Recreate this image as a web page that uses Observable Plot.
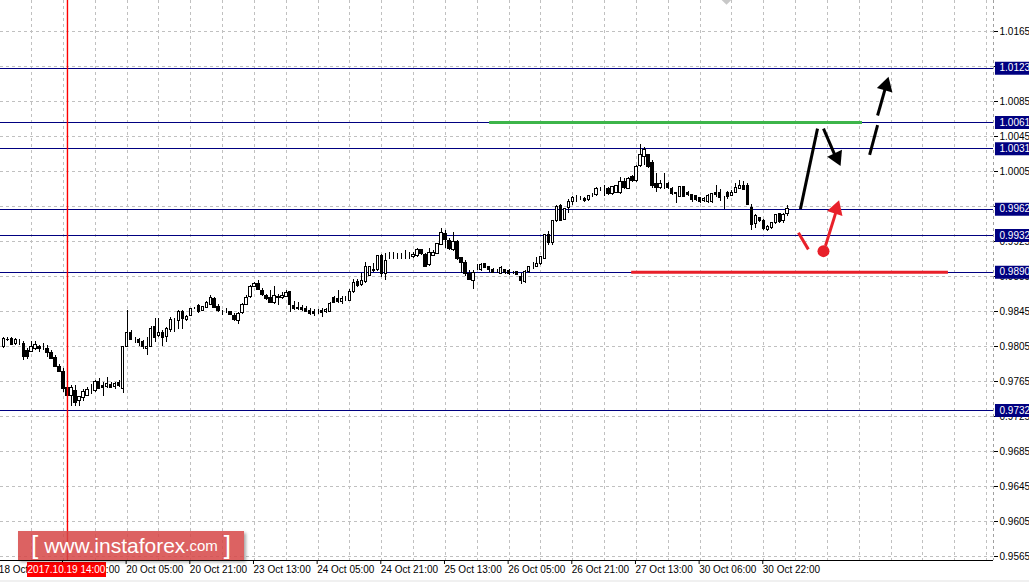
<!DOCTYPE html>
<html><head><meta charset="utf-8">
<script src="https://cdn.jsdelivr.net/npm/d3@7"></script>
<script src="https://cdn.jsdelivr.net/npm/@observablehq/plot@0.6"></script>
<style>
html,body{margin:0;padding:0;background:#f0f0f0;}
#wrap{position:relative;width:1029px;height:582px;overflow:hidden;background:#f0f0f0;}
#chart svg{display:block;}
.wm{position:absolute;left:18px;top:531px;width:226px;height:29px;background:rgba(214,70,70,0.85);box-shadow:2px 2px 3px rgba(0,0,0,0.35);color:#fff;font-family:"Liberation Sans",Arial,sans-serif;display:flex;align-items:center;justify-content:center;white-space:nowrap;}
.wm .br{font-size:26px;line-height:29px;margin:0 6px;}
.wm .www{font-size:21px;}
.wm .com{font-size:15px;}
.datebox{position:absolute;left:27px;top:562px;width:79px;height:15px;background:#ff0000;color:#fff;font:10px "Liberation Sans",Arial,sans-serif;text-align:center;line-height:15px;}
.diamond{position:absolute;left:722px;top:-6px;width:9px;height:9px;background:#c8c8c8;transform:rotate(45deg);}
</style>
</head><body>
<div id="wrap"><div id="chart"></div>
<div class="diamond"></div>
<div class="datebox">2017.10.19 14:00</div>
<div class="wm"><span class="br">[</span><span class="www">www.instaforex</span><span class="com">.com</span><span class="br">]</span></div>
</div>
<script>
// ---- candle data (hourly bars, index 0 = first visible bar) ----
const candleOpen = [
0.9804,0.9812,0.9814,0.9808,0.9811,0.9808,0.9800,0.9799,0.9802,0.9805,
0.9804,0.9802,0.9798,0.9792,0.9782,0.9776,0.9758,0.9749,0.9754,0.9743,
0.9746,0.9749,0.9754,0.9754,0.9764,0.9760,0.9759,0.9761,0.9759,0.9763,
0.9756,0.9805,0.9821,0.9812,0.9812,0.9810,0.9802,0.9805,0.9827,0.9817,
0.9820,0.9816,0.9824,0.9833,0.9834,0.9844,0.9835,0.9840,0.9848,0.9851,
0.9846,0.9849,0.9853,0.9859,0.9850,0.9845,0.9846,0.9844,0.9840,0.9834,
0.9843,0.9853,0.9862,0.9873,0.9877,0.9868,0.9863,0.9861,0.9855,0.9862,
0.9861,0.9862,0.9867,0.9851,0.9849,0.9849,0.9848,0.9846,0.9845,0.9845,
0.9846,0.9844,0.9845,0.9861,0.9859,0.9856,0.9858,0.9857,0.9867,0.9879,
0.9875,0.9879,0.9886,0.9891,0.9892,0.9909,0.9888,0.9908,0.9909,0.9908,
0.9908,0.9909,0.9908,0.9907,0.9909,0.9915,0.9910,0.9898,0.9909,0.9911,
0.9921,0.9934,0.9926,0.9915,0.9924,0.9906,0.9900,0.9888,0.9880,0.9896,
0.9892,0.9899,0.9896,0.9893,0.9892,0.9888,0.9892,0.9891,0.9890,0.9890,
0.9885,0.9879,0.9890,0.9896,0.9896,0.9899,0.9905,0.9932,0.9923,0.9949,
0.9966,0.9950,0.9963,0.9970,0.9975,0.9975,0.9974,0.9972,0.9978,0.9978,
0.9984,0.9985,0.9985,0.9979,0.9981,0.9980,0.9993,0.9985,0.9999,0.9994,
1.0011,1.0022,1.0024,1.0015,0.9991,0.9986,0.9990,0.9991,0.9985,0.9980,
0.9976,0.9987,0.9981,0.9978,0.9977,0.9975,0.9971,0.9970,0.9970,0.9981,
0.9980,0.9976,0.9981,0.9977,0.9981,0.9985,0.9988,0.9989,0.9963,0.9945,
0.9952,0.9949,0.9938,0.9940,0.9946,0.9956,0.9948,0.9956];
const candleHigh = [
0.9815,0.9815,0.9815,0.9814,0.9813,0.9811,0.9803,0.9811,0.9811,0.9806,
0.9809,0.9806,0.9800,0.9795,0.9785,0.9780,0.9758,0.9760,0.9760,0.9748,
0.9756,0.9758,0.9762,0.9766,0.9768,0.9764,0.9770,0.9764,0.9764,0.9766,
0.9805,0.9846,0.9823,0.9815,0.9814,0.9812,0.9815,0.9828,0.9837,0.9837,
0.9823,0.9827,0.9838,0.9837,0.9846,0.9846,0.9841,0.9849,0.9850,0.9853,
0.9851,0.9856,0.9863,0.9861,0.9853,0.9846,0.9848,0.9845,0.9843,0.9844,
0.9854,0.9863,0.9875,0.9878,0.9880,0.9871,0.9864,0.9869,0.9874,0.9864,
0.9867,0.9869,0.9868,0.9856,0.9855,0.9852,0.9851,0.9849,0.9847,0.9847,
0.9848,0.9848,0.9855,0.9862,0.9869,0.9862,0.9862,0.9870,0.9882,0.9882,
0.9889,0.9901,0.9897,0.9900,0.9909,0.9910,0.9911,0.9912,0.9912,0.9911,
0.9911,0.9915,0.9912,0.9912,0.9917,0.9916,0.9911,0.9917,0.9915,0.9923,
0.9940,0.9938,0.9928,0.9935,0.9926,0.9907,0.9903,0.9892,0.9892,0.9899,
0.9900,0.9900,0.9896,0.9894,0.9893,0.9896,0.9893,0.9893,0.9891,0.9891,
0.9888,0.9892,0.9897,0.9901,0.9907,0.9908,0.9933,0.9936,0.9949,0.9966,
0.9967,0.9963,0.9973,0.9977,0.9978,0.9977,0.9975,0.9978,0.9980,0.9987,
0.9987,0.9989,0.9987,0.9988,0.9989,0.9998,0.9997,0.9998,1.0001,1.0012,
1.0036,1.0032,1.0025,1.0018,1.0003,0.9995,1.0003,0.9992,0.9987,0.9981,
0.9988,0.9987,0.9982,0.9979,0.9978,0.9975,0.9975,0.9979,0.9980,0.9989,
0.9984,0.9977,0.9982,0.9983,0.9991,0.9995,0.9994,0.9991,0.9967,0.9956,
0.9953,0.9950,0.9943,0.9947,0.9956,0.9957,0.9957,0.9966];
const candleLow = [
0.9803,0.9811,0.9806,0.9806,0.9806,0.9789,0.9790,0.9798,0.9801,0.9798,
0.9800,0.9792,0.9790,0.9781,0.9775,0.9753,0.9746,0.9736,0.9736,0.9736,
0.9742,0.9748,0.9750,0.9753,0.9756,0.9748,0.9757,0.9757,0.9756,0.9758,
0.9751,0.9804,0.9812,0.9808,0.9805,0.9802,0.9795,0.9804,0.9810,0.9815,
0.9805,0.9810,0.9821,0.9821,0.9824,0.9825,0.9834,0.9839,0.9847,0.9843,
0.9845,0.9848,0.9852,0.9848,0.9844,0.9840,0.9843,0.9840,0.9834,0.9830,
0.9842,0.9852,0.9860,0.9872,0.9869,0.9862,0.9858,0.9854,0.9853,0.9852,
0.9859,0.9861,0.9844,0.9846,0.9846,0.9845,0.9844,0.9841,0.9839,0.9842,
0.9838,0.9843,0.9844,0.9854,0.9854,0.9853,0.9857,0.9856,0.9866,0.9873,
0.9874,0.9877,0.9885,0.9890,0.9891,0.9884,0.9880,0.9905,0.9905,0.9905,
0.9904,0.9904,0.9904,0.9906,0.9907,0.9909,0.9895,0.9897,0.9908,0.9910,
0.9920,0.9917,0.9915,0.9914,0.9903,0.9888,0.9885,0.9880,0.9870,0.9892,
0.9891,0.9894,0.9890,0.9888,0.9889,0.9887,0.9887,0.9886,0.9887,0.9886,
0.9876,0.9877,0.9888,0.9893,0.9895,0.9898,0.9904,0.9920,0.9920,0.9947,
0.9948,0.9949,0.9957,0.9966,0.9970,0.9972,0.9970,0.9971,0.9975,0.9977,
0.9982,0.9976,0.9978,0.9978,0.9980,0.9979,0.9984,0.9984,0.9993,0.9993,
1.0010,1.0012,1.0009,0.9986,0.9981,0.9985,0.9985,0.9984,0.9978,0.9969,
0.9975,0.9975,0.9976,0.9970,0.9971,0.9969,0.9970,0.9969,0.9969,0.9975,
0.9971,0.9962,0.9973,0.9976,0.9980,0.9984,0.9983,0.9966,0.9938,0.9940,
0.9947,0.9938,0.9937,0.9939,0.9945,0.9946,0.9946,0.9954];
const candleClose = [
0.9814,0.9813,0.9807,0.9813,0.9811,0.9793,0.9793,0.9805,0.9807,0.9802,
0.9804,0.9798,0.9791,0.9782,0.9776,0.9757,0.9749,0.9758,0.9741,0.9747,
0.9753,0.9755,0.9754,0.9764,0.9757,0.9758,0.9762,0.9758,0.9762,0.9760,
0.9804,0.9821,0.9813,0.9812,0.9809,0.9804,0.9805,0.9825,0.9815,0.9821,
0.9815,0.9825,0.9835,0.9833,0.9845,0.9837,0.9839,0.9848,0.9848,0.9844,
0.9850,0.9855,0.9860,0.9849,0.9846,0.9845,0.9846,0.9841,0.9835,0.9842,
0.9853,0.9861,0.9873,0.9877,0.9870,0.9864,0.9859,0.9855,0.9863,0.9860,
0.9863,0.9866,0.9852,0.9848,0.9848,0.9847,0.9845,0.9842,0.9842,0.9845,
0.9843,0.9847,0.9854,0.9855,0.9856,0.9859,0.9858,0.9867,0.9878,0.9874,
0.9880,0.9896,0.9896,0.9893,0.9908,0.9888,0.9903,0.9908,0.9909,0.9908,
0.9908,0.9909,0.9908,0.9910,0.9915,0.9911,0.9896,0.9912,0.9912,0.9922,
0.9935,0.9927,0.9916,0.9924,0.9905,0.9900,0.9888,0.9881,0.9889,0.9896,
0.9898,0.9895,0.9892,0.9889,0.9892,0.9895,0.9889,0.9888,0.9890,0.9887,
0.9880,0.9890,0.9896,0.9896,0.9899,0.9907,0.9932,0.9923,0.9948,0.9965,
0.9949,0.9962,0.9970,0.9975,0.9975,0.9975,0.9971,0.9977,0.9978,0.9985,
0.9984,0.9985,0.9979,0.9987,0.9988,0.9993,0.9986,0.9996,0.9994,1.0010,
1.0024,1.0030,1.0010,0.9989,0.9986,0.9991,0.9990,0.9986,0.9979,0.9979,
0.9987,0.9976,0.9978,0.9972,0.9973,0.9970,0.9974,0.9977,0.9979,0.9978,
0.9975,0.9976,0.9976,0.9981,0.9986,0.9989,0.9984,0.9967,0.9944,0.9954,
0.9948,0.9939,0.9942,0.9946,0.9955,0.9947,0.9955,0.9962];

// ---- axes ----
const timeTickBars = [-1, 15, 31, 47, 63, 79, 95, 111, 127, 143, 159, 175, 191];
const timeTickLabels = ["18 Oct 21:00","19 Oct 13:00","20 Oct 05:00","20 Oct 21:00","23 Oct 13:00","24 Oct 05:00","24 Oct 21:00","25 Oct 13:00","26 Oct 05:00","26 Oct 21:00","27 Oct 13:00","30 Oct 06:00","30 Oct 22:00"];
const gridBars = [7,15,23,31,39,47,55,63,71,79,87,95,103,111,119,127,135,143,151,159,167,175,183,191,199,207,215,223,231,239,247];
const priceTicks = [0.9565,0.9605,0.9645,0.9685,0.9725,0.9765,0.9805,0.9845,0.9885,0.9925,0.9965,1.0005,1.0045,1.0085,1.0125,1.0165];
// tick labels fully covered by the level boxes in the terminal
const hiddenTickLabels = [0.9965, 1.0125];

// ---- horizontal levels and annotations ----
const levelPrices = [1.0123, 1.0061, 1.0031, 0.9962, 0.9932, 0.9890, 0.9732];
const resistance = {price: 1.0061, fromBar: 122.1, toBar: 215.8};
const support = {price: 0.9890, fromBar: 157.8, toBar: 237.4};
const crosshairBar = 16;
// scenario arrows: [bar1, price1, bar2, price2]
const blackUp = [200.2, 0.9962, 204.5, 1.0054];
const blackDown = [206.0, 1.0054, 209.6, 1.0016];
const dashedUp1 = [217.6, 1.0024, 219.6, 1.0058];
const dashedUp2 = [219.6, 1.0069, 221.9, 1.0106];
const redShort = [199.7, 0.9935, 202.2, 0.9916];
const redUp = [206.5, 0.9920, 209.5, 0.9964];
const redDot = [206.0, 0.9914];
// arrowheads: [bar, price, rotation deg]
const heads = [
  {bar: 209.3, price: 1.0021, rot: 155, color: "#000"},
  {bar: 209.2, price: 0.9962, rot: 18, color: "#e8202a"},
  {bar: 221.7, price: 1.0103, rot: 16, color: "#000"}
];

const candles = candleOpen.map((o, i) => ({i, open: o, high: candleHigh[i], low: candleLow[i], close: candleClose[i]}));
const xDomain = [-0.83, 248.73];
const yDomain = [0.956043, 1.020043];
const xMax = xDomain[1];
const labelOf = new Map(timeTickBars.map((b, i) => [b, timeTickLabels[i]]));
const seg = a => [{x1: a[0], y1: a[1], x2: a[2], y2: a[3]}];
const FONT = '"Liberation Sans", Arial, sans-serif';

const chart = Plot.plot({
  width: 1029, height: 580,
  marginLeft: 0, marginRight: 36, marginTop: 0, marginBottom: 20,
  style: {background: "#fff", fontFamily: FONT, fontSize: "10px", color: "#000"},
  x: {domain: xDomain, axis: null},
  y: {domain: yDomain, axis: null},
  marks: [
    Plot.ruleY(priceTicks, {stroke: "#c0c0c0", strokeDasharray: "3,3", shapeRendering: "crispEdges"}),
    Plot.ruleX(gridBars, {stroke: "#c0c0c0", strokeDasharray: "3,3", shapeRendering: "crispEdges"}),
    Plot.ruleX([xMax], {stroke: "#a0a0a0", strokeDasharray: "3,3", shapeRendering: "crispEdges"}),
    Plot.axisY({ticks: priceTicks, anchor: "right", tickSize: 4, tickPadding: 2,
      tickFormat: d => hiddenTickLabels.includes(d) ? "" : d.toFixed(4), fontSize: 10, fill: "#000"}),
    Plot.ruleY(levelPrices, {stroke: "#000080", strokeWidth: 1, shapeRendering: "crispEdges"}),
    Plot.ruleY(levelPrices, {x1: () => xMax + 0.5, x2: () => xMax + 12, stroke: "#000080", strokeWidth: 13, clip: false}),
    Plot.text(levelPrices, {x: () => xMax, y: d => d, dx: 6, text: d => d.toFixed(4), textAnchor: "start", fill: "#fff", fontSize: 10}),
    Plot.ruleY([resistance], {y: "price", x1: "fromBar", x2: "toBar", stroke: "#3db54a", strokeWidth: 3}),
    Plot.ruleY([support], {y: "price", x1: "fromBar", x2: "toBar", stroke: "#e8202a", strokeWidth: 3}),
    Plot.ruleX(candles, {x: "i", y1: "low", y2: "high", stroke: "#000", shapeRendering: "crispEdges"}),
    Plot.rect(candles, {x1: d => d.i - 0.3, x2: d => d.i + 0.3, y1: "open", y2: "close",
      fill: d => d.close >= d.open ? "#fff" : "#000", stroke: "#000", shapeRendering: "crispEdges"}),
    Plot.ruleX([crosshairBar], {x: d => d, stroke: "#ff0000", strokeWidth: 1.4}),
    Plot.link(seg(blackUp), {x1: "x1", y1: "y1", x2: "x2", y2: "y2", stroke: "#000", strokeWidth: 3}),
    Plot.link(seg(blackDown), {x1: "x1", y1: "y1", x2: "x2", y2: "y2", stroke: "#000", strokeWidth: 3}),
    Plot.link(seg(dashedUp1), {x1: "x1", y1: "y1", x2: "x2", y2: "y2", stroke: "#000", strokeWidth: 3}),
    Plot.link(seg(dashedUp2), {x1: "x1", y1: "y1", x2: "x2", y2: "y2", stroke: "#000", strokeWidth: 3}),
    Plot.link(seg(redShort), {x1: "x1", y1: "y1", x2: "x2", y2: "y2", stroke: "#e8202a", strokeWidth: 3}),
    Plot.link(seg(redUp), {x1: "x1", y1: "y1", x2: "x2", y2: "y2", stroke: "#e8202a", strokeWidth: 3}),
    Plot.dot([redDot], {x: d => d[0], y: d => d[1], r: 6, fill: "#e8202a", stroke: "none"}),
    Plot.dot(heads, {x: "bar", y: "price", rotate: "rot", symbol: "triangle", r: 6, fill: "color", stroke: "none"}),
    Plot.ruleY([yDomain[0]], {stroke: "#000", shapeRendering: "crispEdges"}),
    Plot.axisX({ticks: timeTickBars, anchor: "bottom", tickSize: 4, tickPadding: 1, tickFormat: d => labelOf.get(d), textAnchor: "start", dx: -1, fontSize: 10, fill: "#000"})
  ]
});
document.getElementById("chart").appendChild(chart);
</script>
</body></html>
